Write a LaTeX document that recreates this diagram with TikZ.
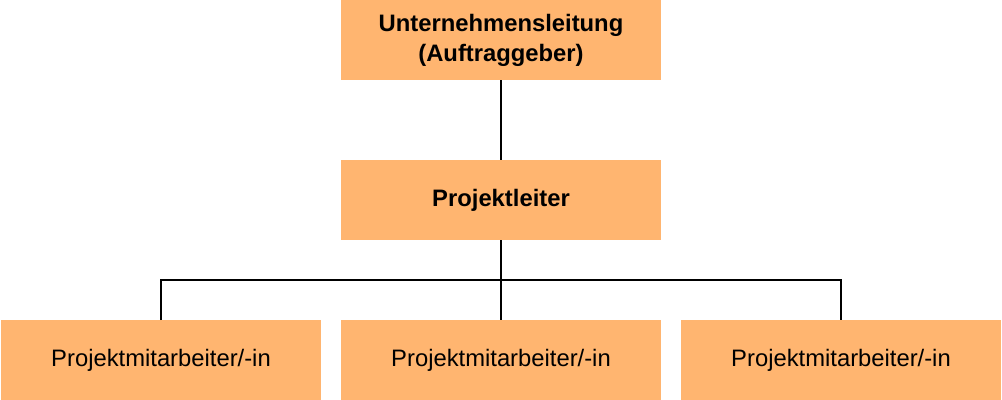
\documentclass[tikz,border=0pt]{standalone}
\usepackage{fontspec}
\setmainfont{Liberation Sans}
\usepackage{tikz}
\usetikzlibrary{positioning,calc}
\definecolor{boxfill}{HTML}{FFB570}

\tikzset{
    orgbox/.style={fill=boxfill,minimum width=320bp,minimum height=80bp,inner sep=0pt,outer sep=0pt,
        align=center,font=\fontsize{23.8bp}{30bp}\selectfont},
    orgline/.style={line width=2bp}
}

\begin{document}
\begin{tikzpicture}
    \useasboundingbox (0,0) rectangle (1002bp,-400bp);
    \node[orgbox,font=\fontsize{23.8bp}{30bp}\selectfont\bfseries] (l) at (501bp,-40bp) {Unternehmensleitung\\(Auftraggeber)};
    \node[orgbox,font=\fontsize{23.8bp}{30bp}\selectfont\bfseries] (p) [below=80bp of l] {Projektleiter};
    \node[orgbox] (m2) [below=80bp of p] {Projektmitarbeiter/-in};
    \node[orgbox] (m1) [left=20bp of m2] {Projektmitarbeiter/-in};
    \node[orgbox] (m3) [right=20bp of m2] {Projektmitarbeiter/-in};
    \coordinate (j) at ($(p.south)!.5!(m2.north)$);

    \draw[orgline] (l) -- (p);
    \draw[orgline] (p) -- (m2);
    \draw[orgline] (m1) |- (j) -| (m3);
\end{tikzpicture}
\end{document}
